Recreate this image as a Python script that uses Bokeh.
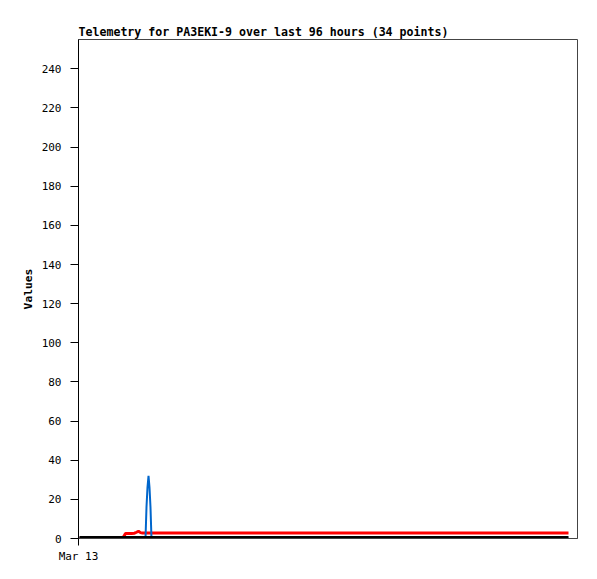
from bokeh.plotting import figure
from bokeh.models import FixedTicker, Range1d
from bokeh.embed import file_html
from bokeh.resources import INLINE

# time of each packet, hours since start of the 96-hour window
hours = [0.19, 1.35, 2.69, 4.23, 5.77, 7.12, 8.08, 8.66, 9.04, 9.62, 10.2, 10.77,
         11.16, 11.54, 11.93, 12.31, 12.70, 12.89, 13.08, 13.27, 13.47, 13.66,
         13.85, 14.04, 15.78, 23.47, 33.09, 42.71, 52.33, 61.95, 71.57, 81.19,
         88.88, 94.27]
black_vals = [0] * 34
red_vals = [0, 0, 0, 0, 0, 0, 0, 0.8, 2.6, 2.6, 2.6, 2.7, 3.2, 3.7, 3.0, 2.8,
            2.8, 2.8, 2.8, 2.8, 2.8, 2.8, 2.8, 2.8, 2.8, 2.8, 2.8, 2.8, 2.8,
            2.8, 2.8, 2.8, 2.8, 2.8]
blue_vals = [0, 0, 0, 0, 0, 0, 0, 0, 0, 0, 0, 0, 0, 0, 0, 0,
             0, 0, 16, 26, 32, 26, 16, 0, 0, 0, 0, 0, 0, 0, 0, 0, 0, 0]
y_ticks = list(range(0, 241, 20))
x_tick_labels = {0: "Mar 13"}

MONO = "DejaVu Sans Mono"

p = figure(width=589, height=571, output_backend="svg", toolbar_location=None,
           x_range=Range1d(0, 96), y_range=Range1d(0, 255),
           title="Telemetry for PA3EKI-9 over last 96 hours (34 points)")
p.min_border_left = 78
p.min_border_right = 12
p.min_border_top = 39
p.min_border_bottom = 33

p.title.text_font = MONO
p.title.text_font_size = "11.6px"
p.title.text_font_style = "bold"
p.title.text_color = "#000000"
p.title.align = "left"
p.title.offset = 0
p.title.standoff = 1

p.grid.visible = False
p.outline_line_color = "#444444"
p.outline_line_width = 1

p.line(hours, red_vals, line_color="#ff0000", line_width=3)
p.line(hours, blue_vals, line_color="#0066cc", line_width=2)
p.line(hours, black_vals, line_color="#000000", line_width=5)

ya = p.yaxis[0]
ya.ticker = FixedTicker(ticks=y_ticks)
ya.minor_tick_line_color = None
ya.major_tick_out = 8
ya.major_tick_in = 0
ya.major_label_standoff = 9
ya.major_label_text_font = MONO
ya.major_label_text_font_size = "11px"
ya.major_label_text_color = "#000000"
ya.axis_line_color = "#000000"
ya.axis_label = "Values"
ya.axis_label_text_font = MONO
ya.axis_label_text_font_size = "11.3px"
ya.axis_label_text_font_style = "bold"
ya.axis_label_text_color = "#000000"
ya.axis_label_standoff = 4

xa = p.xaxis[0]
xa.ticker = FixedTicker(ticks=[0])
xa.major_label_overrides = x_tick_labels
xa.minor_tick_line_color = None
xa.major_tick_out = 7
xa.major_tick_in = 0
xa.major_label_standoff = 4
xa.major_label_text_font = MONO
xa.major_label_text_font_size = "11px"
xa.major_label_text_color = "#000000"
xa.axis_line_color = "#444444"

open("out.html", "w").write(file_html(p, INLINE))
